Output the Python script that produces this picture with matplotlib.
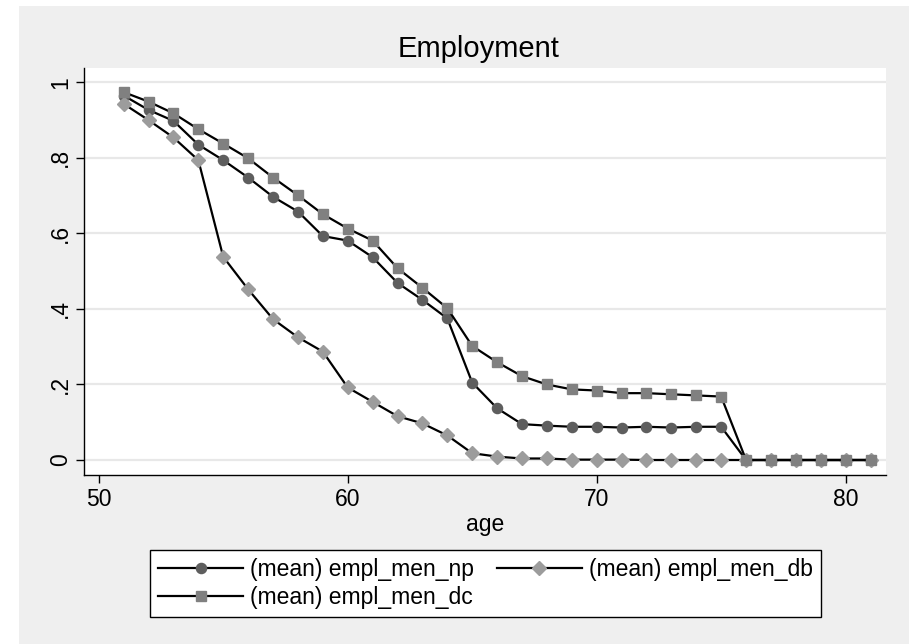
import matplotlib.pyplot as plt
from matplotlib.patches import Rectangle

plt.rcParams['font.family'] = ['Liberation Sans', 'DejaVu Sans']

# Data
age = list(range(51, 82))

empl_np = [0.965, 0.927, 0.898, 0.835, 0.794, 0.748, 0.697, 0.658, 0.593, 0.581,
           0.537, 0.469, 0.424, 0.375, 0.205, 0.137, 0.095, 0.091, 0.088, 0.088,
           0.086, 0.088, 0.086, 0.088, 0.088, 0.0, 0.0, 0.0, 0.0, 0.0, 0.0]

empl_db = [0.943, 0.900, 0.854, 0.794, 0.538, 0.452, 0.373, 0.325, 0.287, 0.192,
           0.154, 0.116, 0.097, 0.065, 0.018, 0.009, 0.004, 0.004, 0.001, 0.001,
           0.001, 0.0, 0.0, 0.0, 0.0, 0.0, 0.0, 0.0, 0.0, 0.0, 0.0]

empl_dc = [0.974, 0.949, 0.918, 0.876, 0.838, 0.799, 0.748, 0.701, 0.651, 0.613,
           0.581, 0.508, 0.456, 0.402, 0.302, 0.259, 0.222, 0.200, 0.187, 0.184,
           0.177, 0.177, 0.174, 0.171, 0.168, 0.0, 0.0, 0.0, 0.0, 0.0, 0.0]

y_ticks = [0, 0.2, 0.4, 0.6, 0.8, 1.0]
y_ticklabels = ['0', '.2', '.4', '.6', '.8', '1']
x_ticks = [50, 60, 70, 80]

W, H = 909, 644
fig = plt.figure(figsize=(W / 100, H / 100), dpi=100, facecolor='white')
fig.patches.append(Rectangle((19 / W, 0), 1, 1 - 6 / H, transform=fig.transFigure,
                             facecolor='#efefef', edgecolor='none', zorder=-10))

ax = fig.add_axes([84.3 / W, 1 - 475 / H, (886 - 84.3) / W, (475 - 68) / H])
ax.set_facecolor('white')

h_np, = ax.plot(age, empl_np, color='black', lw=1.6, marker='o', ms=7.3,
                mfc='#5e5e5e', mec='#5e5e5e', label='(mean) empl_men_np', zorder=3)
h_db, = ax.plot(age, empl_db, color='black', lw=1.6, marker='D', ms=7.3,
                mfc='#9c9c9c', mec='#9c9c9c', label='(mean) empl_men_db', zorder=4)
h_dc, = ax.plot(age, empl_dc, color='black', lw=1.6, marker='s', ms=7.8,
                mfc='#808080', mec='#808080', label='(mean) empl_men_dc', zorder=5)

ax.set_xlim(49.42, 81.62)
ax.set_ylim(-0.0397, 1.038)
ax.set_xticks(x_ticks)
ax.set_yticks(y_ticks)
ax.set_yticklabels(y_ticklabels, rotation=90, va='center')
ax.tick_params(labelsize=16.5, length=6, width=1, direction='out', pad=3)
ax.grid(axis='y', color='#e8e8e8', lw=1.6, zorder=0)
ax.set_axisbelow(True)
for s in ['top', 'right']:
    ax.spines[s].set_visible(False)
for s in ['left', 'bottom']:
    ax.spines[s].set_linewidth(1)

ax.set_xlabel('age', fontsize=16.5, va='center')
ax.xaxis.set_label_coords(0.5, (475 - 525) / (475 - 68))
fig.text(479 / W, 1 - 57 / H, 'Employment', fontsize=21, ha='center', va='baseline')

leg = fig.legend([h_np, h_dc, h_db],
                 ['(mean) empl_men_np', '(mean) empl_men_dc', '(mean) empl_men_db'],
                 ncol=2, loc='center',
                 bbox_to_anchor=(139 / W, 1 - 620 / H, (832 - 139) / W, 73 / H),
                 mode='expand', fontsize=16.5, handlelength=3.7, handletextpad=0.3,
                 labelspacing=0.2, columnspacing=1.4, borderpad=0.35,
                 fancybox=False, framealpha=1, edgecolor='black')
leg.get_frame().set_linewidth(1)

fig.savefig('out.png', dpi=100, facecolor='white')
